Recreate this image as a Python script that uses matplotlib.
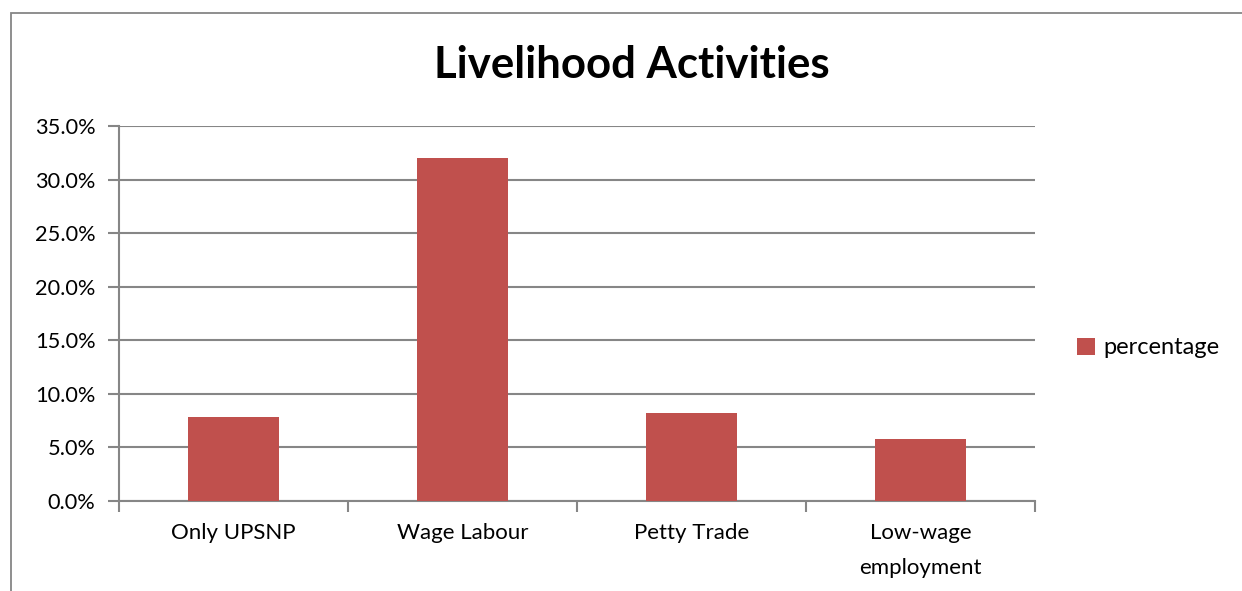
import numpy as np
import matplotlib.pyplot as plt
from matplotlib.patches import Rectangle
from matplotlib.ticker import FuncFormatter

categories = ['Only UPSNP', 'Wage Labour', 'Petty Trade', 'Low-wage\nemployment']
percentage = [7.8, 32.0, 8.2, 5.8]
yticks = [0, 5, 10, 15, 20, 25, 30, 35]

plt.rcParams['font.family'] = ['Lato', 'DejaVu Sans']
grey = '#868686'
bar_color = '#C0504D'

W, H = 1242, 591
fig = plt.figure(figsize=(W / 100, H / 100), dpi=100)

# chart area border (only the top and left edges fall inside the canvas)
fig.add_artist(Rectangle((11 / W, -0.1), 1.2, 1 - 13 / H + 0.1, transform=fig.transFigure,
                         fill=False, edgecolor=grey, linewidth=1.3))

ax = fig.add_axes([119 / W, 1 - 501 / H, (1035 - 119) / W, (501 - 126) / H])
x = np.arange(len(categories))
ax.bar(x, percentage, width=0.4, color=bar_color, label='percentage', zorder=3)

ax.set_xlim(-0.5, len(categories) - 0.5)
ax.set_ylim(0, 35)
ax.set_yticks(yticks)
ax.yaxis.set_major_formatter(FuncFormatter(lambda v, p: f'{v:.1f}%'))
ax.grid(axis='y', color=grey, linewidth=1.5, zorder=0)

# category labels centred under bars, ticks on the category boundaries
ax.set_xticks(x)
ax.set_xticklabels(categories, fontsize=16, linespacing=1.95, va='top')
ax.tick_params(axis='x', length=0, pad=16)
ax.set_xticks(np.arange(-0.5, len(categories)), minor=True)
ax.tick_params(axis='x', which='minor', length=8, width=1.5, color=grey)
ax.tick_params(axis='y', length=8, width=1.5, color=grey, labelsize=15.7, pad=9)

for side in ['top', 'right']:
    ax.spines[side].set_visible(False)
for side in ['left', 'bottom']:
    ax.spines[side].set_color(grey)
    ax.spines[side].set_linewidth(1.5)

fig.text(632 / W, 1 - 65 / H, 'Livelihood Activities', ha='center', va='center',
         fontsize=31.5, fontweight='bold')

ax.legend(loc='center left', bbox_to_anchor=(1056 / W, 1 - 348 / H), bbox_transform=fig.transFigure,
          frameon=False, fontsize=17, handlelength=0.75, handleheight=0.75, handletextpad=0.35)

fig.savefig('out.png', dpi=100)
